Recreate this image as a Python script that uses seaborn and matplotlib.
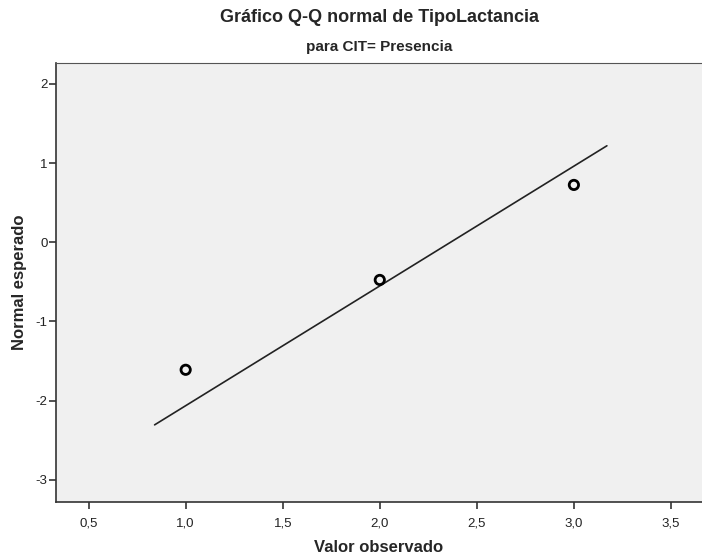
import numpy as np
import pandas as pd
import seaborn as sns
import matplotlib.pyplot as plt

# observed values and their expected normal scores
observed = [1.0, 2.0, 3.0]
expected = [-1.61, -0.475, 0.725]

# reference line y = (x - mean) / sd, drawn over this x range
line_mean = 2.364
line_sd = 0.661
line_range = [0.84, 3.17]

x_ticks = [0.5, 1.0, 1.5, 2.0, 2.5, 3.0, 3.5]
x_labels = ['0,5', '1,0', '1,5', '2,0', '2,5', '3,0', '3,5']
y_ticks = [-3, -2, -1, 0, 1, 2]

sns.set_style('white')
plt.rcParams['font.family'] = ['Liberation Sans', 'DejaVu Sans']
plt.rcParams['axes.unicode_minus'] = False

fig = plt.figure(figsize=(7.02, 5.56), dpi=100)
ax = fig.add_axes([56 / 702, 54 / 556, 1 - 56 / 702, (502 - 63) / 556])
ax.set_facecolor('#f0f0f0')

qq = pd.DataFrame({'observed': observed, 'expected': expected})
line_x = np.array(line_range)
line_df = pd.DataFrame({'x': line_x, 'y': (line_x - line_mean) / line_sd})

sns.lineplot(data=line_df, x='x', y='y', color='#222222', linewidth=1.2, ax=ax)
sns.scatterplot(data=qq, x='observed', y='expected', marker='o', s=45,
                facecolor='none', edgecolor='black', linewidth=2, ax=ax, zorder=3)

ax.set_xlim(0.332, 3.66)
ax.set_ylim(-3.28, 2.265)
ax.set_xticks(x_ticks)
ax.set_xticklabels(x_labels)
ax.set_yticks(y_ticks)
ax.tick_params(axis='both', direction='out', length=5, width=1.2, color='#333333',
               labelsize=9.5, labelcolor='#222222', pad=1, bottom=True, left=True)
ax.tick_params(axis='x', pad=6)
for side in ['left', 'bottom']:
    ax.spines[side].set_color('#333333')
    ax.spines[side].set_linewidth(1.2)
ax.spines['top'].set_color('#555555')
ax.spines['right'].set_visible(False)

ax.set_xlabel('Valor observado', fontsize=12, fontweight='bold', labelpad=8)
ax.set_ylabel('Normal esperado', fontsize=12, fontweight='bold', labelpad=6)

fig.text(379 / 702, 1 - 18 / 556, 'Gráfico Q-Q normal de TipoLactancia',
         ha='center', va='center', fontsize=13, fontweight='bold')
fig.text(379 / 702, 1 - 47 / 556, 'para CIT= Presencia',
         ha='center', va='center', fontsize=11, fontweight='bold')

fig.savefig('out.png', dpi=100)
